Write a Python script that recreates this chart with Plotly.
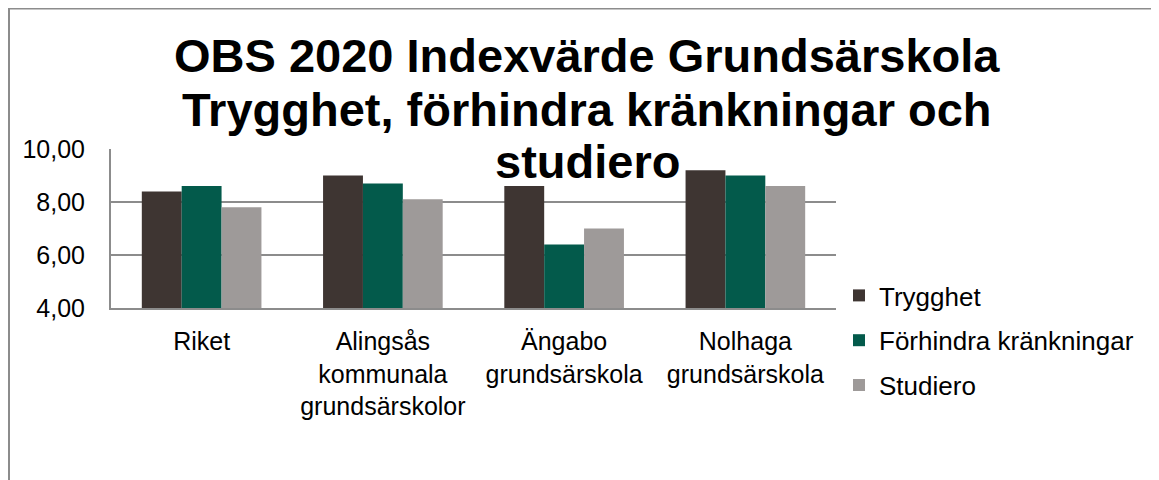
import plotly.graph_objects as go

categories = ["Riket", "Alingsås<br>kommunala<br>grundsärskolor", "Ängabo<br>grundsärskola", "Nolhaga<br>grundsärskola"]
series_names = ["Trygghet", "Förhindra kränkningar", "Studiero"]
trygghet = [8.4, 9.0, 8.6, 9.2]
forhindra = [8.6, 8.7, 6.4, 9.0]
studiero = [7.8, 8.1, 7.0, 8.6]
colors = ["#3E3532", "#035A4B", "#9E9A99"]
title_lines = ["OBS 2020 Indexvärde Grundsärskola", "Trygghet, förhindra kränkningar och", "studiero"]
y_ticks = [4, 6, 8, 10]

OFF = 8  # page body margin
W, H = 1159 - OFF, 480 - OFF
L, R, T, B = 111, 836, 149, 308  # plot area in screen px
FONT = "Liberation Sans, Arial, sans-serif"

def px_x(x):
    return (x - L) / (R - L)

def px_y(y):
    return (B - y) / (B - T)

fig = go.Figure()
for name, vals, col in zip(series_names, [trygghet, forhindra, studiero], colors):
    fig.add_trace(go.Bar(x=categories, y=vals, name=name, marker=dict(color=col, line=dict(width=0)),
                         legendgroup=name))

title_y = [56, 109.5, 161]
annotations = []
for txt, yy in zip(title_lines, title_y):
    annotations.append(dict(text=txt, x=px_x(587), y=px_y(yy), xref="paper", yref="paper",
                            xanchor="center", yanchor="middle", showarrow=False,
                            font=dict(family=FONT, size=47, color="#000000", weight="bold")))

fig.update_layout(
    width=W, height=H,
    margin=dict(l=L - OFF, r=W - (R - OFF), t=T - OFF, b=H - (B - OFF), pad=0),
    paper_bgcolor="white", plot_bgcolor="white",
    separators=", ",
    barmode="group", bargap=0.34, bargroupgap=0,
    font=dict(family=FONT, size=25, color="#000000"),
    annotations=annotations,
    showlegend=True,
    legend=dict(x=px_x(839), y=px_y(272), xanchor="left", yanchor="top",
                traceorder="grouped", tracegroupgap=8, itemwidth=30,
                font=dict(family=FONT, size=26, color="#000000"),
                bgcolor="rgba(0,0,0,0)"),
    shapes=[dict(type="rect", xref="paper", yref="paper",
                 x0=px_x(OFF + 1), x1=px_x(1200), y0=px_y(OFF + 0.5), y1=px_y(520),
                 line=dict(color="#8C8C8C", width=2), fillcolor="rgba(0,0,0,0)", layer="below")],
)
fig.update_xaxes(showline=True, linecolor="#8C8C8C", linewidth=2, ticks="", showgrid=False,
                 tickfont=dict(family=FONT, size=25), ticklabelstandoff=10)
fig.update_yaxes(range=[4, 10], tickvals=y_ticks, tickformat=".2f", showline=True, linecolor="#8C8C8C",
                 linewidth=2, gridcolor="#8C8C8C", gridwidth=2, ticks="", zeroline=False,
                 tickfont=dict(family=FONT, size=25), ticklabelstandoff=19)

fig.write_html("out.html")
